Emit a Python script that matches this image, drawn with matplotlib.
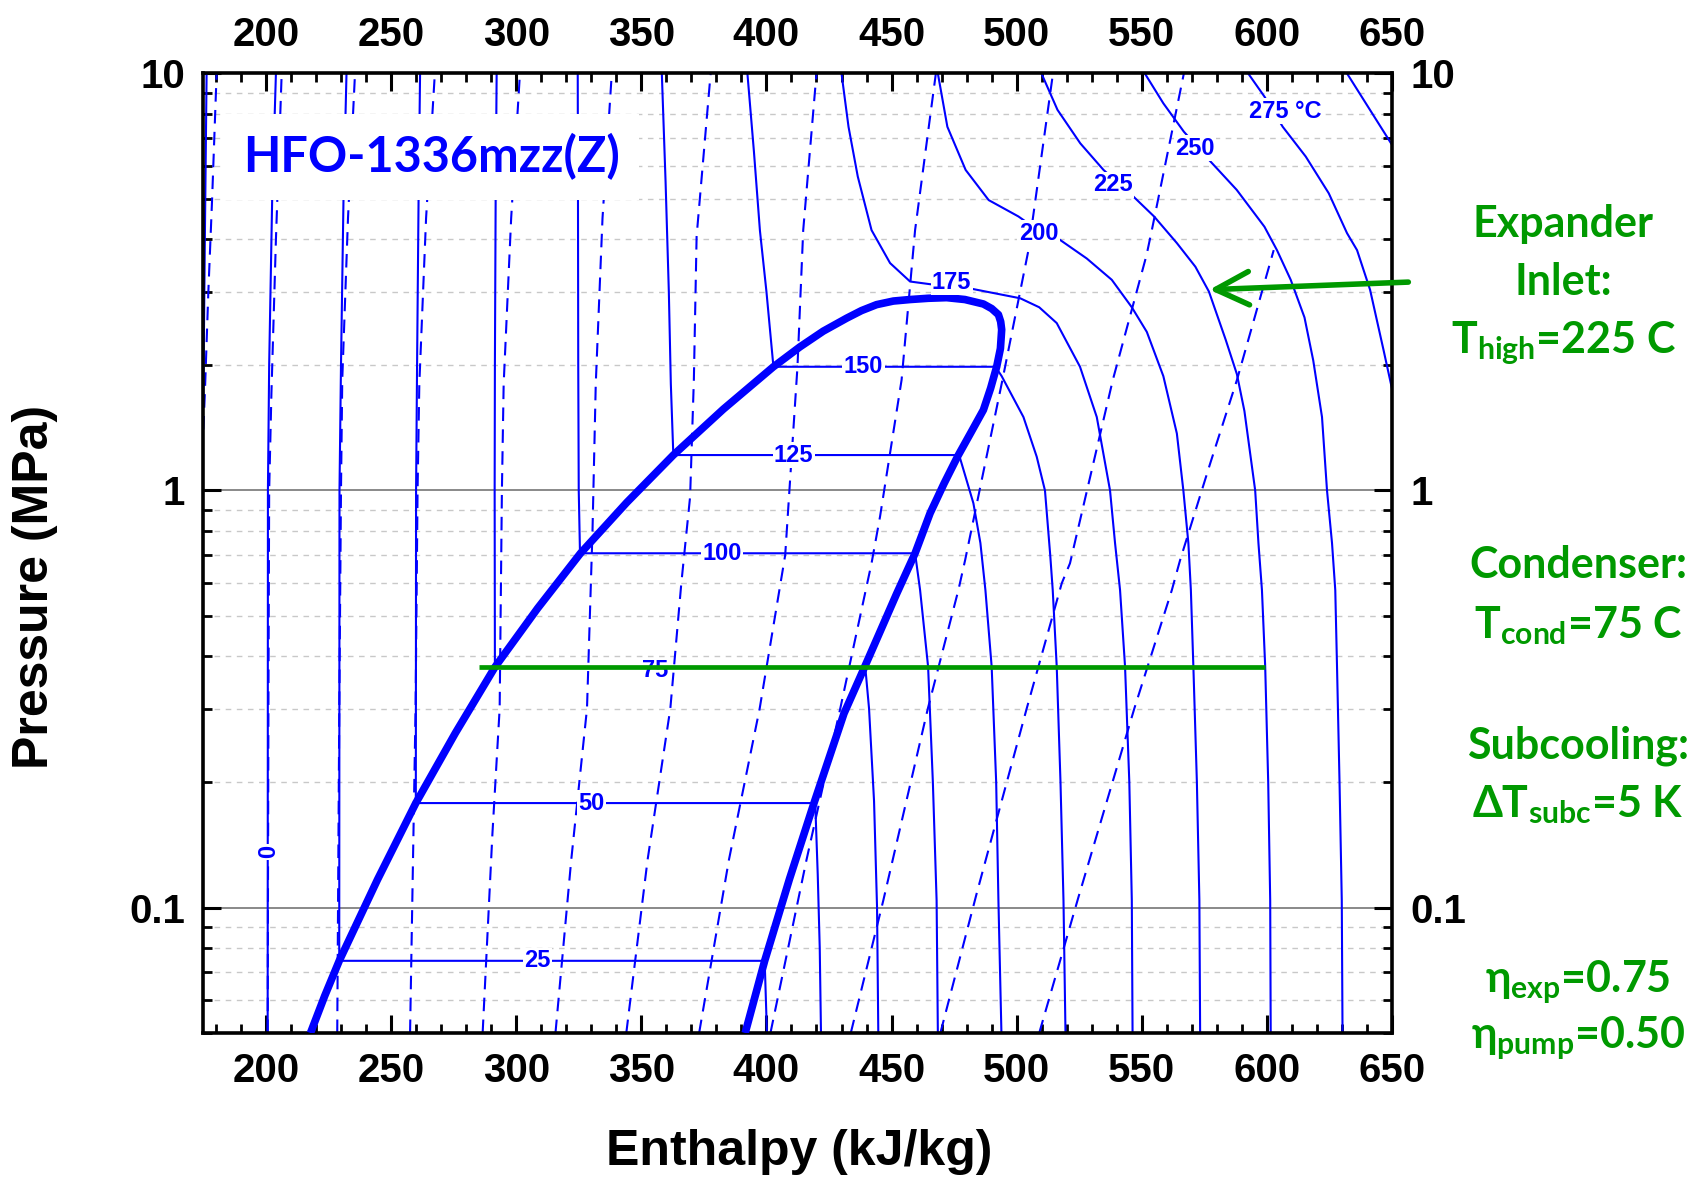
import numpy as np
import matplotlib
matplotlib.use("Agg")
import matplotlib.pyplot as plt
from matplotlib.ticker import LogLocator, MultipleLocator, NullFormatter, FixedLocator, FixedFormatter

plt.rcParams["font.family"] = ["Liberation Sans", "DejaVu Sans"]
plt.rcParams["font.weight"] = "bold"
plt.rcParams["mathtext.default"] = "regular"

# saturation dome (h in kJ/kg, P in MPa), liquid side up, vapour side down
dome_h = [217.8, 223.5, 229.3, 244.6, 259.9, 275.7, 291.5, 308.6, 325.7, 344.2, 362.8, 382.8,
          402.8, 413.4, 422.7, 432.1, 438.0, 444.0, 450.7, 457.4, 464.7, 472.0, 479.3, 486.7,
          490.0, 492.7, 493.6, 494.0, 493.5, 492.0, 489.6, 486.7, 481.8, 476.5, 471.0, 465.4,
          459.4, 452.0, 445.5, 439.2, 431.0, 419.0, 409.2, 399.3, 391.5]
dome_p = [0.05, 0.0614, 0.0745, 0.1167, 0.178, 0.262, 0.377, 0.522, 0.707, 0.936, 1.216, 1.567,
          1.98, 2.21, 2.41, 2.59, 2.70, 2.79, 2.846, 2.87, 2.89, 2.90, 2.87, 2.80,
          2.73, 2.64, 2.54, 2.43, 2.19, 1.98, 1.76, 1.56, 1.38, 1.21, 1.04, 0.882,
          0.707, 0.565, 0.46, 0.377, 0.292, 0.178, 0.117, 0.0745, 0.05]

# isotherms (solid)
t_m25_h = [175.0, 175.6, 176.3]
t_m25_p = [1.7, 4.0, 10.0]
t0_h = [200.7, 200.8, 201.3, 202.5, 204.0]
t0_p = [0.05, 1.0, 2.0, 5.0, 10.0]
t25_h = [232.2, 231.0, 230.0, 229.4, 229.3, 399.3, 400.2]
t25_p = [10, 5, 2, 1, 0.0745, 0.0745, 0.05]
t50_h = [261.6, 261.0, 260.4, 260.0, 259.9, 419.5, 420.5, 421.3, 421.8]
t50_p = [10, 5, 2, 1, 0.178, 0.178, 0.12, 0.08, 0.05]
t75_h = [292.2, 291.8, 291.5, 291.4, 291.5, 439.5, 441.0, 443.0, 444.2, 444.7]
t75_p = [10, 5, 2, 1, 0.377, 0.377, 0.3, 0.18, 0.1, 0.05]
t100_h = [324.6, 324.7, 324.8, 325.0, 325.5, 459.4, 461.4, 464.6, 466.5, 468.0, 468.5]
t100_p = [10, 5, 2, 1, 0.707, 0.707, 0.577, 0.378, 0.2, 0.104, 0.05]
t125_h = [358.2, 359.7, 361.0, 361.8, 362.8, 477.0, 482.7, 485.5, 487.5, 490.0, 491.8, 492.7, 493.9]
t125_p = [10, 5.5, 3, 1.8, 1.216, 1.216, 0.932, 0.748, 0.577, 0.378, 0.2, 0.104, 0.05]
t150_h = [392.4, 395.0, 397.4, 400.0, 402.8, 491.5, 494.0, 502.7, 508.0, 511.3, 513.4, 514.4,
          516.0, 517.5, 518.7, 519.5]
t150_p = [10, 6.5, 4.2, 3, 1.98, 1.98, 1.88, 1.5, 1.205, 1.0, 0.7, 0.577, 0.378, 0.2, 0.104, 0.05]
t175_h = [430.0, 432.8, 436.5, 442.0, 449.4, 457.4, 466.0, 474.0, 482.7, 501.4, 509.0, 516.0,
          525.3, 532.0, 537.3, 539.3, 541.3, 543.3, 545.0, 546.0, 546.3]
t175_p = [10, 7.45, 5.66, 4.21, 3.51, 3.17, 3.12, 3.09, 3.04, 2.89, 2.75, 2.52, 1.98, 1.5, 1.0,
          0.748, 0.577, 0.378, 0.2, 0.104, 0.05]
t200_h = [468.5, 472.3, 479.6, 488.8, 500.7, 508.7, 517.3, 528.0, 538.0, 546.0, 552.0, 558.6,
          564.0, 566.6, 568.6, 569.6, 570.6, 572.0, 573.0, 573.3]
t200_p = [10, 7.45, 5.87, 4.97, 4.54, 4.2, 3.99, 3.6, 3.2, 2.75, 2.4, 1.88, 1.37, 1.0, 0.748,
          0.577, 0.378, 0.2, 0.104, 0.05]
t225_h = [509.9, 516.3, 525.4, 534.7, 546.6, 554.9, 564.0, 571.4, 576.8, 583.5, 588.0, 591.0,
          595.3, 596.6, 598.0, 599.3, 600.5, 601.3, 601.5]
t225_p = [10, 8.18, 6.8, 5.87, 5.07, 4.54, 3.92, 3.44, 3.0, 2.3, 1.9, 1.55, 1.0, 0.748, 0.577,
          0.378, 0.2, 0.104, 0.05]
t250_h = [551.2, 558.6, 566.8, 576.9, 587.9, 599.0, 604.0, 609.5, 615.0, 618.5, 622.0, 624.0,
          626.0, 627.3, 628.0, 629.0, 629.9, 630.2]
t250_p = [10, 8.48, 7.25, 6.2, 5.26, 4.29, 3.77, 3.2, 2.6, 2.05, 1.5, 1.0, 0.748, 0.577, 0.378,
          0.2, 0.104, 0.05]
t275_h = [592.5, 599.0, 606.3, 615.5, 624.7, 632.0, 636.0, 641.2, 646.6, 650.0, 652.0]
t275_p = [10, 8.8, 7.45, 6.32, 5.16, 4.14, 3.77, 3.03, 2.17, 1.75, 1.5]
t300_h = [632.0, 650.4, 653.0]
t300_p = [10, 6.68, 6.2]

# isentropes (dashed)
s_a_h = [175.0, 175.6, 177.0, 178.5, 180.3]
s_a_p = [1.4, 1.71, 3.0, 5.0, 10.0]
s_b_h = [200.7, 201.0, 201.3, 202.2, 204.0, 206.3]
s_b_p = [0.05, 0.3, 1.0, 1.71, 4.0, 10.0]
s_c_h = [228.5, 229.3, 230.0, 230.5, 232.8, 235.6]
s_c_p = [0.05, 0.29, 1.0, 1.84, 4.5, 10.0]
s_d_h = [257.6, 259.8, 260.6, 261.3, 264.0, 267.5]
s_d_p = [0.05, 0.3, 1.0, 1.8, 4.5, 10.0]
s_e_h = [286.6, 290.5, 293.4, 294.3, 295.0, 298.0, 301.5]
s_e_p = [0.05, 0.15, 0.3, 1.0, 1.8, 4.5, 10.0]
s_f_h = [315.7, 322.0, 328.3, 330.5, 331.8, 334.5, 338.2]
s_f_p = [0.05, 0.13, 0.3, 0.8, 1.8, 4.5, 10.0]
s_g_h = [344.0, 352.5, 361.6, 366.0, 369.5, 371.0, 372.1, 377.7]
s_g_p = [0.05, 0.13, 0.3, 0.6, 0.966, 1.84, 4.07, 10.0]
s_h_h = [373.1, 385.0, 397.3, 407.5, 412.4, 414.7, 420.0]
s_h_p = [0.05, 0.13, 0.3, 0.7, 1.98, 4.21, 10.0]
s_i_h = [401.6, 416.0, 429.5, 442.0, 445.4, 454.0, 459.4, 467.7]
s_i_p = [0.05, 0.13, 0.3, 0.669, 0.866, 1.84, 4.21, 10.0]
s_j_h = [433.7, 446.7, 464.5, 476.7, 479.4, 494.3, 504.7, 514.5]
s_j_p = [0.05, 0.104, 0.3, 0.577, 0.681, 1.84, 3.77, 10.0]
s_k_h = [469.5, 484.0, 504.0, 518.0, 521.3, 538.4, 551.9, 554.0, 566.8]
s_k_p = [0.05, 0.108, 0.3, 0.599, 0.669, 1.84, 3.67, 4.21, 10.0]
s_l_h = [509.0, 524.7, 547.0, 562.0, 565.3, 577.3, 588.0, 602.7]
s_l_p = [0.05, 0.106, 0.3, 0.577, 0.681, 1.16, 1.84, 3.77]

# isotherm labels
lab_text = ["0", "25", "50", "75", "100", "125", "150", "175", "200", "225", "250", "275 °C"]
lab_h = [201.0, 308.5, 330.1, 355.6, 382.2, 410.9, 438.8, 474.0, 508.7, 538.5, 571.3, 607.2]
lab_p = [0.136, 0.0745, 0.178, 0.37, 0.707, 1.216, 1.98, 3.16, 4.14, 5.41, 6.62, 8.11]
lab_rot = [90, 0, 0, 0, 0, 0, 0, 0, 0, 0, 0, 0]

# cycle annotations
cond_h = [285.0, 599.3]
cond_p = [0.377, 0.377]
arrow_start = (656.5, 3.16)
arrow_tip = (577.0, 3.03)

blue = "#0000ff"
green = "#009900"

fig = plt.figure(figsize=(16.96, 11.79), dpi=100)
ax = fig.add_axes([0.1199, 0.1238, 0.7009, 0.8139])
ax.set_yscale("log")
ax.set_xlim(175, 650)
ax.set_ylim(0.05, 10)

isotherms = [(t_m25_h, t_m25_p), (t0_h, t0_p), (t25_h, t25_p), (t50_h, t50_p), (t75_h, t75_p),
             (t100_h, t100_p), (t125_h, t125_p), (t150_h, t150_p), (t175_h, t175_p),
             (t200_h, t200_p), (t225_h, t225_p), (t250_h, t250_p), (t275_h, t275_p),
             (t300_h, t300_p)]
for h, p in isotherms:
    ax.plot(h, p, color=blue, lw=1.5, zorder=2)

isentropes = [(s_a_h, s_a_p), (s_b_h, s_b_p), (s_c_h, s_c_p), (s_d_h, s_d_p), (s_e_h, s_e_p),
              (s_f_h, s_f_p), (s_g_h, s_g_p), (s_h_h, s_h_p), (s_i_h, s_i_p), (s_j_h, s_j_p),
              (s_k_h, s_k_p), (s_l_h, s_l_p)]
for h, p in isentropes:
    ax.plot(h, p, color=blue, lw=1.5, dashes=(6.5, 4), zorder=2)

ax.plot(dome_h, dome_p, color=blue, lw=5.5, solid_joinstyle="round", solid_capstyle="butt", zorder=3)

for t, h, p, r in zip(lab_text, lab_h, lab_p, lab_rot):
    ax.text(h, p, t, color=blue, fontsize=17, fontweight="bold", ha="center", va="center",
            rotation=r, zorder=4,
            bbox=dict(facecolor="white", edgecolor="none", pad=1.0))

ax.plot(cond_h, cond_p, color=green, lw=3.4, solid_capstyle="butt", zorder=5)
ax.annotate("", xy=arrow_tip, xytext=arrow_start, annotation_clip=False, zorder=6,
            arrowprops=dict(arrowstyle="->,head_length=0.6,head_width=0.3", color=green,
                            lw=4, mutation_scale=40, shrinkA=0, shrinkB=0,
                            capstyle="round", joinstyle="round", clip_on=False))

ax.text(266.1, 6.31, "HFO-1336mzz(Z)", color=blue, fontsize=35, fontweight="bold",
        family=["Lato", "DejaVu Sans"], ha="center", va="center", zorder=7,
        bbox=dict(facecolor="white", edgecolor="none", pad=14))

# axes styling
ax.xaxis.set_major_locator(FixedLocator(list(range(200, 651, 50))))
ax.xaxis.set_minor_locator(MultipleLocator(10))
ax.yaxis.set_major_locator(FixedLocator([0.1, 1, 10]))
ax.yaxis.set_major_formatter(FixedFormatter(["0.1", "1", "10"]))
ax.yaxis.set_minor_locator(LogLocator(base=10, subs=np.arange(2, 10)))
ax.yaxis.set_minor_formatter(NullFormatter())
ax.tick_params(which="both", direction="in", top=True, right=True,
               labeltop=True, labelright=True, labelsize=29)
ax.tick_params(which="major", length=13, width=2.2)
ax.tick_params(which="minor", length=6.5, width=2.0)
ax.tick_params(axis="x", pad=14)
ax.tick_params(axis="y", pad=13)
for sp in ax.spines.values():
    sp.set_linewidth(2.6)
ax.yaxis.grid(True, which="major", color="#808080", lw=1.3)
ax.yaxis.grid(True, which="minor", color="#c8c8c8", lw=1.0, ls=(0, (4, 4)))
ax.set_axisbelow(True)

fig.text(0.4711, 0.0229, "Enthalpy (kJ/kg)", fontsize=36, fontweight="bold",
         ha="center", va="center")
fig.text(0.0204, 0.5021, "Pressure (MPa)", fontsize=36, fontweight="bold",
         ha="center", va="center", rotation=90)

gfont = dict(color=green, fontsize=31, fontweight="bold", family=["Lato", "DejaVu Sans"],
             ha="center", va="baseline")
fig.text(0.9216, 0.7992, "Expander", **gfont)
fig.text(0.9216, 0.7498, "Inlet:", **gfont)
fig.text(0.9216, 0.7003, r"T$_{high}$=225 C", **gfont)
fig.text(0.9304, 0.5095, "Condenser:", **gfont)
fig.text(0.9304, 0.4589, r"T$_{cond}$=75 C", **gfont)
fig.text(0.9304, 0.3568, "Subcooling:", **gfont)
fig.text(0.9304, 0.3073, r"ΔT$_{subc}$=5 K", **gfont)
fig.text(0.9304, 0.1589, r"η$_{exp}$=0.75", **gfont)
fig.text(0.9304, 0.1109, r"η$_{pump}$=0.50", **gfont)

fig.savefig("out.png", dpi=100)
